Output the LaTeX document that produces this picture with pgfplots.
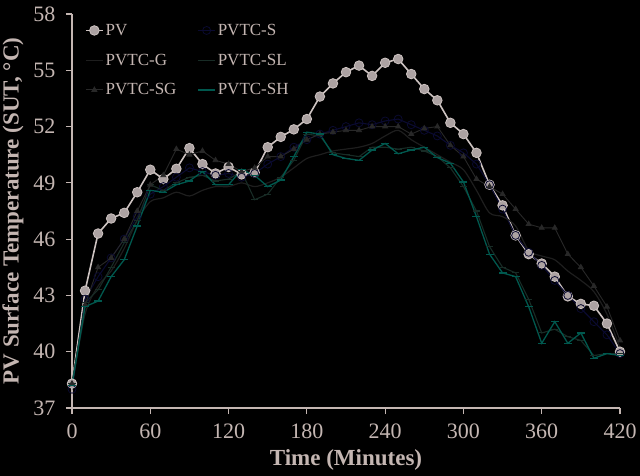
\documentclass[border=0pt]{standalone}
\usepackage{pgfplots}
\usepackage{pgfplotstable}
\pgfplotsset{compat=1.18}
\usepackage{fontspec}
\setmainfont{Liberation Serif}
\definecolor{txt}{RGB}{196,182,178}
\definecolor{pvline}{RGB}{205,195,193}
\definecolor{pvfill}{RGB}{172,162,162}
\definecolor{sblue}{RGB}{10,10,48}
\definecolor{gdark}{RGB}{30,30,30}
\definecolor{sldark}{RGB}{24,44,38}
\definecolor{sggray}{RGB}{40,40,40}
\definecolor{shteal}{RGB}{0,88,78}

\pgfplotstableread{
t   PV    S     G     SL    SG    SH
0   38.3  38.0  38.2  38.3  38.3  38.2
10  43.25 42.8  42.0  42.6  42.5  42.4
20  46.3  44.0  43.5  43.3  44.5  42.7
30  47.1  45.0  44.3  44.5  45.0  44.0
40  47.4  46.0  45.5  45.8  46.0  44.9
50  48.5  47.2  47.0  47.0  47.5  46.7
60  49.7  48.4  48.0  48.9  48.9  48.6
70  49.2  48.8  48.2  48.6  49.4  48.5
80  49.75 49.3  48.5  49.0  50.8  48.9
90  50.85 49.8  48.3  49.3  50.5  49.1
100 50.0  49.6  48.6  49.4  50.7  49.6
110 49.5  49.4  48.8  49.1  50.2  48.9
120 49.85 49.5  48.8  49.2  50.0  48.9
130 49.45 49.3  49.0  49.6  49.6  49.7
140 49.55 49.5  48.8  48.1  49.8  49.4
150 50.9  50.0  49.0  48.4  50.4  48.8
160 51.45 50.4  49.3  49.3  50.4  49.15
170 51.85 50.9  49.8  50.2  50.8  50.4
180 52.4  51.3  50.3  51.6  51.3  51.7
190 53.6  51.6  50.5  51.5  51.6  51.6
200 54.3  51.8  50.7  50.6  51.7  50.5
210 54.9  52.0  50.8  50.5  51.8  50.3
220 55.25 52.2  50.9  50.4  51.8  50.2
230 54.7  52.1  51.1  50.9  52.0  50.75
240 55.4  52.3  51.5  50.9  52.0  51.1
250 55.6  52.4  51.8  50.8  52.0  50.55
260 54.8  52.1  51.3  50.9  51.6  50.75
270 54.0  51.8  50.9  50.7  51.9  50.9
280 53.4  51.5  50.5  50.4  52.0  50.35
290 52.2  51.0  50.1  49.8  51.0  50.05
300 51.6  50.6  49.7  48.8  50.4  49.05
310 50.6  50.0  48.6  47.5  49.2  47.2
320 48.9  48.9  47.4  45.6  48.8  45.2
330 47.8  47.6  47.2  44.5  48.4  44.2
340 46.2  46.2  46.7  44.2  47.6  44.0
350 45.2  45.3  45.4  42.8  46.8  42.4
360 44.7  44.6  45.1  41.0  46.6  40.45
370 44.0  43.8  44.9  41.2  46.6  41.6
380 42.95 43.0  44.3  40.8  45.2  40.45
390 42.55 42.3  43.8  40.6  44.5  41.0
400 42.45 41.6  43.2  39.8  43.5  39.65
410 41.5  40.9  42.0  39.9  42.4  39.9
420 40.0  39.9  40.2  39.9  40.6  39.8
}\datatable

\begin{document}
\begin{tikzpicture}
\fill[black] (0,0) rectangle (640bp,476bp);
\begin{axis}[
  at={(72bp,68bp)}, anchor=south west,
  scale only axis, width=548bp, height=394bp,
  xmin=0, xmax=420, ymin=37, ymax=58,
  xtick={0,60,...,420}, ytick={37,40,...,58},
  axis lines*=left,
  axis line style={draw=txt, line width=1.4pt, -},
  tick align=outside,
  major tick length=6bp,
  tick style={draw=txt, line width=1.2pt},
  /pgf/number format/assume math mode=true,
  ticklabel style={font=\fontsize{22bp}{26bp}\selectfont, text=txt},
  yticklabel style={xshift=-7bp},
  xticklabel style={yshift=-6bp},
  xlabel={Time (Minutes)},
  ylabel={PV Surface Temperature (SUT, °C)},
  xlabel style={at={(axis description cs:0.5,-0.132)}, anchor=center,
    font=\bfseries\fontsize{23bp}{27bp}\selectfont, text=txt},
  ylabel style={at={(axis description cs:-0.1077,0.5)}, anchor=center, rotate=0,
    font=\bfseries\fontsize{23bp}{27bp}\selectfont, text=txt},
  legend columns=2,
  legend cell align=left,
  legend style={at={(axis description cs:0.018,0.985)}, anchor=north west,
    draw=none, fill=none, text=txt,
    font=\fontsize{17bp}{20bp}\selectfont,
    /tikz/every even column/.append style={column sep=19bp},
    row sep=13bp},
]
\addplot[color=pvline, line width=1.6pt, mark=*, mark size=4.8bp,
  mark options={fill=pvfill, draw=pvline, line width=0.8pt}]
  table[x=t, y=PV] {\datatable};
\addlegendentry{PV}
\addplot[color=sblue, line width=1.1pt, mark=o, mark size=4bp,
  mark options={draw=sblue, line width=0.8pt}]
  table[x=t, y=S] {\datatable};
\addlegendentry{PVTC-S}
\addplot[color=gdark, line width=1.2pt, smooth]
  table[x=t, y=G] {\datatable};
\addlegendentry{PVTC-G}
\addplot[color=sldark, line width=1.1pt, mark=-, mark size=3.5bp]
  table[x=t, y=SL] {\datatable};
\addlegendentry{PVTC-SL}
\addplot[color=sggray, line width=0.9pt, mark=triangle*, mark size=2.8bp,
  mark options={fill=sggray}]
  table[x=t, y=SG] {\datatable};
\addlegendentry{PVTC-SG}
\addplot[color=shteal, line width=1.3pt, mark=-, mark size=4bp]
  table[x=t, y=SH] {\datatable};
\addlegendentry{PVTC-SH}
\end{axis}
\pgfresetboundingbox
\path (0,0) rectangle (640bp,476bp);
\end{tikzpicture}
\end{document}
